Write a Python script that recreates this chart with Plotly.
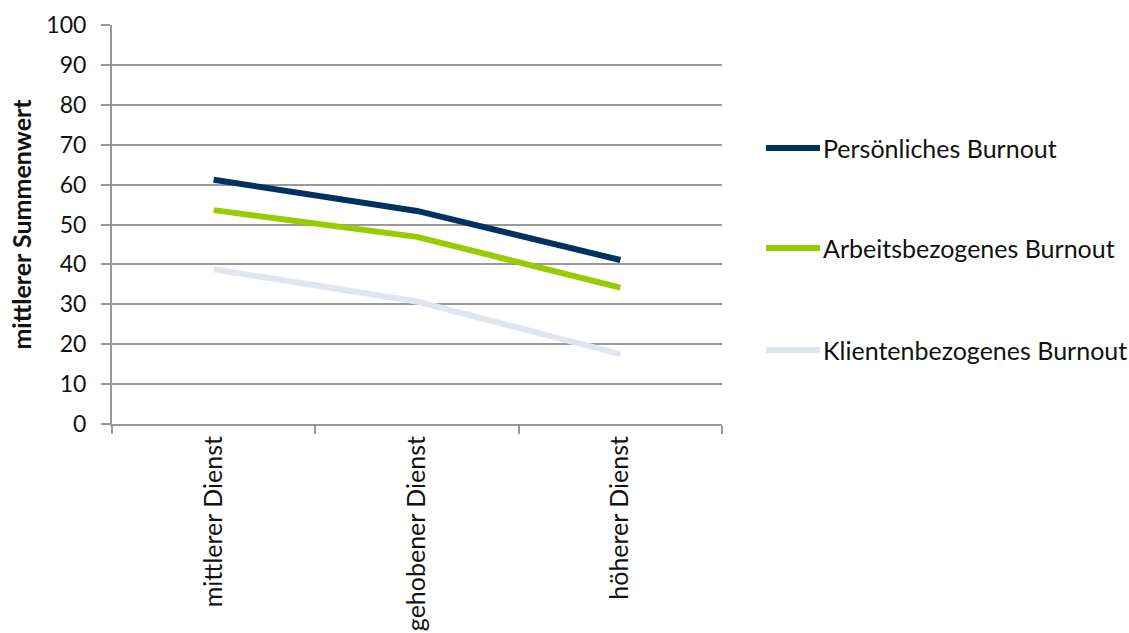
import plotly.graph_objects as go

categories = ["mittlerer Dienst", "gehobener Dienst", "höherer Dienst"]
series_names = ["Persönliches Burnout", "Arbeitsbezogenes Burnout", "Klientenbezogenes Burnout"]
persoenlich = [61.2, 53.4, 41.1]
arbeit = [53.6, 46.9, 34.2]
klienten = [38.8, 30.7, 17.5]
y_ticks = [0, 10, 20, 30, 40, 50, 60, 70, 80, 90, 100]
colors = ["#00325F", "#99CC00", "#E1E6EE"]

FONT = "Lato"
TXT = "#111111"
series_values = [persoenlich, arbeit, klienten]

fig = go.Figure()
for name, vals, col in zip(series_names, series_values, colors):
    fig.add_trace(go.Scatter(
        x=categories, y=vals, mode="lines", name=name,
        line=dict(color=col, width=6), showlegend=False,
    ))

# manual legend with long line samples (positions in plot-area paper coords)
legend_y = [148, 248, 350]
for name, col, ly in zip(series_names, colors, legend_y):
    yp = (424 - ly) / 399
    fig.add_shape(type="line", xref="paper", yref="paper",
                  x0=(766 - 112) / 610, x1=(820 - 112) / 610, y0=yp, y1=yp,
                  line=dict(color=col, width=6), layer="above")
    fig.add_annotation(xref="paper", yref="paper", x=(821 - 112) / 610, y=yp,
                       text=name, showarrow=False, xanchor="left", yanchor="middle",
                       font=dict(family=FONT, size=25, color=TXT))

fig.update_layout(
    width=1129, height=633,
    margin=dict(l=112, r=407, t=25, b=209),
    paper_bgcolor="white", plot_bgcolor="white",
    font=dict(family=FONT, size=23, color=TXT),
    xaxis=dict(
        type="category", range=[-0.5, 2.5], tickson="boundaries",
        ticks="outside", ticklen=8, tickcolor="#999999", tickwidth=2,
        showline=True, linecolor="#999999", linewidth=2,
        showgrid=False, tickangle=-90, automargin=False,
        tickfont=dict(family=FONT, size=25, color=TXT),
    ),
    yaxis=dict(
        range=[0, 100], tickvals=y_ticks, ticks="outside", ticklen=9,
        tickcolor="#999999", tickwidth=2,
        showline=True, linecolor="#999999", linewidth=2,
        showgrid=True, gridcolor="#999999", gridwidth=2,
        zeroline=False, automargin=False,
        title=dict(text="<b>mittlerer Summenwert</b>", standoff=8,
                   font=dict(family=FONT, size=25, color=TXT)),
        tickfont=dict(family=FONT, size=23, color=TXT),
        ticklabelstandoff=10,
    ),
)

fig.write_html("out.html")
